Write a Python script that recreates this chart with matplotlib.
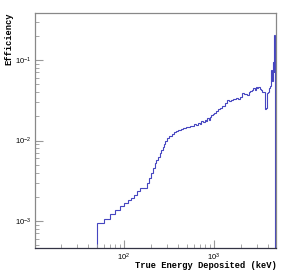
import numpy as np
import matplotlib
matplotlib.use("Agg")
import matplotlib.pyplot as plt

# bin edges (keV) and efficiency per bin
edges = [10, 50, 60, 70, 80, 90, 100, 110, 120, 130, 140, 150, 180, 190, 200,
         210, 220, 230, 240, 250, 260, 270, 280, 290, 300, 320, 340, 360, 380,
         400, 430, 460, 490, 520, 550, 580, 610, 640, 670, 700, 730, 760, 790,
         820, 850, 880, 910, 940, 970, 1000, 1060, 1120, 1180, 1250, 1320, 1400,
         1480, 1560, 1650, 1750, 1850, 1950, 2050, 2150, 2250, 2350, 2450, 2550,
         2650, 2750, 2850, 2950, 3050, 3150, 3250, 3350, 3450, 3550, 3650, 3750,
         3850, 3950, 4050, 4150, 4250, 4350, 4450, 4550, 4650, 4750, 4850, 5000]
efficiency = [0, 9.35e-4, 1.06e-3, 1.22e-3, 1.37e-3, 1.54e-3, 1.67e-3, 1.82e-3,
              1.95e-3, 2.10e-3, 2.38e-3, 2.55e-3, 2.94e-3, 3.39e-3, 3.91e-3,
              4.52e-3, 5.21e-3, 5.73e-3, 6.3e-3, 7.0e-3, 7.7e-3, 8.4e-3, 9.1e-3,
              9.8e-3, 1.07e-2, 1.15e-2, 1.22e-2, 1.28e-2, 1.31e-2, 1.34e-2,
              1.38e-2, 1.42e-2, 1.46e-2, 1.49e-2, 1.53e-2, 1.50e-2, 1.60e-2,
              1.56e-2, 1.66e-2, 1.62e-2, 1.74e-2, 1.68e-2, 1.80e-2, 1.74e-2,
              1.88e-2, 1.80e-2, 1.95e-2, 2.05e-2, 2.15e-2, 2.22e-2, 2.35e-2,
              2.45e-2, 2.55e-2, 2.70e-2, 2.90e-2, 3.15e-2, 3.10e-2, 3.20e-2,
              3.25e-2, 3.40e-2, 3.30e-2, 3.45e-2, 3.85e-2, 3.75e-2, 3.80e-2,
              3.70e-2, 3.95e-2, 4.15e-2, 4.30e-2, 4.55e-2, 4.30e-2, 4.65e-2,
              4.50e-2, 4.60e-2, 4.35e-2, 4.20e-2, 4.05e-2, 4.00e-2, 3.95e-2,
              2.45e-2, 2.50e-2, 3.90e-2, 4.00e-2, 4.50e-2, 4.70e-2, 7.5e-2,
              5.5e-2, 9.4e-2, 7.0e-2, 0.205, 0]

fig = plt.figure(figsize=(2.91, 2.76), dpi=100)
ax = fig.add_axes([0.1203, 0.1014, 0.8297, 0.8516])

ax.stairs(efficiency, edges, color='#4545c0', lw=0.8, baseline=None)

ax.set_xscale('log')
ax.set_yscale('log')
ax.set_xlim(10.2, 5000)
ax.set_ylim(4.62e-4, 0.384)

for side in ['left', 'top', 'right']:
    ax.spines[side].set_color('#888888')
ax.spines['bottom'].set_color('#333344')
for s in ax.spines.values():
    s.set_linewidth(0.9)

ax.tick_params(which='both', direction='in', color='#999999', top=False, right=False,
               labelsize=5.5, pad=2.5)
ax.tick_params(which='major', length=6, width=0.8)
ax.tick_params(which='minor', length=3, width=0.6, labelleft=False, labelbottom=False)
for lab in ax.get_xticklabels() + ax.get_yticklabels():
    lab.set_family('Liberation Sans')

lfont = dict(family='Liberation Mono', weight='bold', size=6.3)
ax.set_xlabel('True Energy Deposited (keV)', loc='right', labelpad=-1, **lfont)
ax.set_ylabel('Efficiency', loc='top', labelpad=1.5, **lfont)

fig.savefig('out.png', dpi=100)
